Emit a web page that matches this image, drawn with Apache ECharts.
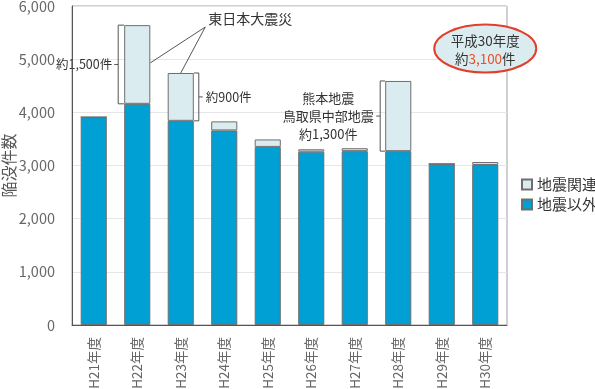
<!DOCTYPE html>
<html><head><meta charset="utf-8">
<script src="https://cdn.jsdelivr.net/npm/echarts@6/dist/echarts.min.js"></script>
<style>html,body{margin:0;padding:0;background:#fff}#c{width:595px;height:389px}</style>
</head><body><div id="c"></div>
<script>
var categories = ['H21年度','H22年度','H23年度','H24年度','H25年度','H26年度','H27年度','H28年度','H29年度','H30年度'];
var nonQuake = [3910, 4160, 3840, 3660, 3350, 3260, 3270, 3270, 3030, 3010];
var quake    = [0, 1480, 900, 170, 140, 45, 55, 1320, 0, 55];
var yTicks = [0, 1000, 2000, 3000, 4000, 5000, 6000];
var FONT = '"Noto Sans CJK JP", "Noto Sans", sans-serif';

var chart = echarts.init(document.getElementById('c'));
chart.setOption({
  animation: false,
  textStyle: {fontFamily: FONT},
  grid: {left: 72, right: 88, top: 6, bottom: 64, show: true, borderColor: '#a0a0a0', borderWidth: 1,
         containLabel: false, outerBoundsMode: 'none'},
  legend: {
    data: ['地震関連', '地震以外'], orient: 'vertical', left: 516, top: 172,
    itemWidth: 10, itemHeight: 10, itemGap: 5,
    textStyle: {fontSize: 15, color: '#333', fontFamily: FONT},
    icon: 'rect'
  },
  xAxis: {
    type: 'category', data: categories,
    axisLine: {lineStyle: {color: '#555'}},
    axisTick: {show: false},
    axisLabel: {rotate: 90, fontSize: 13.5, color: '#666', margin: 12, fontFamily: FONT}
  },
  yAxis: {
    type: 'value', min: yTicks[0], max: yTicks[yTicks.length - 1], interval: 1000,
    name: '陥没件数', nameLocation: 'middle', nameRotate: 90, nameGap: 55, nameMoveOverlap: false,
    nameTextStyle: {fontSize: 16, color: '#555', fontFamily: FONT},
    axisLine: {show: true, lineStyle: {color: '#555'}},
    axisTick: {show: false},
    splitLine: {lineStyle: {color: '#e6e6e6'}},
    axisLabel: {fontSize: 14.5, color: '#666', margin: 17, fontFamily: FONT,
      formatter: function (v) { return v.toLocaleString('en-US'); }}
  },
  series: [
    {name: '地震以外', type: 'bar', stack: 's', barWidth: '60%', data: nonQuake,
     itemStyle: {color: '#009fd4', borderColor: '#6e6e6e', borderWidth: 1}},
    {name: '地震関連', type: 'bar', stack: 's', barWidth: '60%', data: quake,
     itemStyle: {color: '#dbecf0', borderColor: '#6e6e6e', borderWidth: 1}}
  ]
});

function px(i, v) { return chart.convertToPixel({gridIndex: 0}, [i, v]); }
var bw = (px(1, 0)[0] - px(0, 0)[0]) * 0.6;
var g = [];
var lineStyle = {stroke: '#555', lineWidth: 1, fill: null};
var txt = function (x, y, s, align, extra) {
  return {type: 'text', x: x, y: y, style: Object.assign({text: s, font: '13px ' + FONT, fill: '#333', textAlign: align || 'left', textVerticalAlign: 'middle'}, extra || {})};
};

// H22 bracket (left)
(function () {
  var top = px(1, nonQuake[1] + quake[1]), bot = px(1, nonQuake[1]);
  var xl = top[0] - bw / 2 - 6, xr = top[0] - bw / 2;
  var mid = (top[1] + bot[1]) / 2;
  g.push({type: 'polyline', shape: {points: [[xr, top[1]], [xl, top[1]], [xl, bot[1]], [xr, bot[1]]]}, style: lineStyle});
  g.push({type: 'line', shape: {x1: xl, y1: mid, x2: xl - 4, y2: mid}, style: lineStyle});
  g.push(txt(xl - 6, mid, '約1,500件', 'right', {font: '12.5px ' + FONT}));
})();
// H23 bracket (right)
(function () {
  var top = px(2, nonQuake[2] + quake[2]), bot = px(2, nonQuake[2]);
  var xl = top[0] + bw / 2, xr = top[0] + bw / 2 + 5;
  var mid = (top[1] + bot[1]) / 2;
  g.push({type: 'polyline', shape: {points: [[xl, top[1]], [xr, top[1]], [xr, bot[1]], [xl, bot[1]]]}, style: lineStyle});
  g.push({type: 'line', shape: {x1: xr, y1: mid, x2: xr + 4, y2: mid}, style: lineStyle});
  g.push(txt(xr + 7, mid, '約900件', 'left', {font: '12.5px ' + FONT}));
})();
// 東日本大震災 label with lines
(function () {
  var p22 = px(1, 4930);
  var p23 = px(2, nonQuake[2] + quake[2]);
  var start = px(3, 5605);
  var lx = start[0] - 19, ly = start[1];
  g.push(txt(lx + 3, ly - 8, '東日本大震災', 'left', {font: '14px ' + FONT}));
  g.push({type: 'line', shape: {x1: lx, y1: ly, x2: p22[0] + bw / 2, y2: p22[1]}, style: lineStyle});
  g.push({type: 'line', shape: {x1: lx, y1: ly, x2: p23[0], y2: p23[1]}, style: lineStyle});
})();
// H28 bracket (left)
(function () {
  var top = px(7, nonQuake[7] + quake[7]), bot = px(7, nonQuake[7]);
  var xl = top[0] - bw / 2 - 5, xr = top[0] - bw / 2;
  var mid = (top[1] + bot[1]) / 2;
  g.push({type: 'polyline', shape: {points: [[xr, top[1]], [xl, top[1]], [xl, bot[1]], [xr, bot[1]]]}, style: lineStyle});
  g.push({type: 'line', shape: {x1: xl, y1: mid, x2: xl - 4, y2: mid}, style: lineStyle});
  var cx = xl - 52;
  g.push(txt(cx, mid - 18, '熊本地震', 'center'));
  g.push(txt(cx, mid, '鳥取県中部地震', 'center'));
  g.push(txt(cx, mid + 18, '約1,300件', 'center'));
})();
// ellipse callout
(function () {
  var c = px(9.0, 5200);
  g.push({type: 'ellipse', shape: {cx: c[0], cy: c[1], rx: 51, ry: 24}, style: {fill: '#dbecf0', stroke: '#e0402a', lineWidth: 2}});
  g.push(txt(c[0], c[1] - 8, '平成30年度', 'center', {font: '13.5px ' + FONT}));
  g.push({type: 'text', x: c[0], y: c[1] + 10, style: {
    rich: {a: {font: '13.5px ' + FONT, fill: '#333'}, b: {font: '13.5px ' + FONT, fill: '#e8502a'}},
    text: '{a|約}{b|3,100}{a|件}', textAlign: 'center', textVerticalAlign: 'middle'}});
})();
chart.setOption({graphic: g});
</script></body></html>
